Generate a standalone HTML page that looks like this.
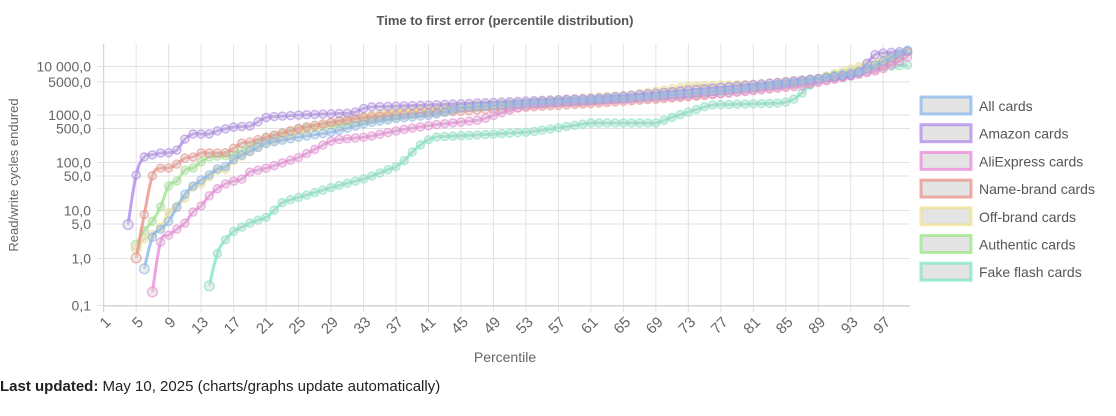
<!DOCTYPE html>
<html><head><meta charset="utf-8"><style>
body{margin:0;background:#fff;width:1116px;height:411px;overflow:hidden;font-family:"Liberation Sans",sans-serif}
</style></head><body>
<svg id="s" width="1116" height="411" xmlns="http://www.w3.org/2000/svg" font-family="Liberation Sans, sans-serif">
<text x="505" y="25" text-anchor="middle" font-size="13" font-weight="bold" fill="#555">Time to first error (percentile distribution)</text>
<text x="505" y="362" text-anchor="middle" font-size="14" fill="#666">Percentile</text>
<text transform="translate(18,175) rotate(-90)" text-anchor="middle" font-size="13" fill="#666">Read/write cycles endured</text>
<text x="0" y="391" font-size="15" fill="#222"><tspan font-weight="bold">Last updated:</tspan> May 10, 2025 (charts/graphs update automatically)</text>
<g id="grid"></g><g id="series"></g><g id="legend"></g>
</svg>
<script>
var NS="http://www.w3.org/2000/svg",s=document.getElementById('s');
function el(t,a,p){var e=document.createElementNS(NS,t);for(var k in a)e.setAttribute(k,a[k]);(p||s).appendChild(e);return e;}
var g=document.getElementById('grid'),X0=103.7,DX=8.12,YT=44,YB=306,XR=910;
function px(p){return X0+(p-1)*DX;}
var yt=[[66.5,"10 000,0"],[82,"5000,0"],[115,"1000,0"],[128.5,"500,0"],[162.5,"100,0"],[176,"50,0"],[210.5,"10,0"],[224,"5,0"],[258.5,"1,0"],[305.5,"0,1"]];
yt.forEach(function(t){el('line',{x1:97,x2:XR,y1:t[0],y2:t[0],stroke:'#e2e2e2','stroke-width':1},g);
var tx=el('text',{x:91,y:t[0]+5,'text-anchor':'end','font-size':14,fill:'#666'},g);tx.textContent=t[1];});
for(var p=1;p<=97;p+=4){var x=px(p);el('line',{x1:x,x2:x,y1:YT,y2:YB+6,stroke:p==1?'#ccc':'#e2e2e2'},g);
var tx=el('text',{x:0,y:0,'text-anchor':'end','font-size':15,fill:'#666',transform:'translate('+(x+8)+','+(YB+17)+') rotate(-45)'},g);tx.textContent=p;}
el('line',{x1:X0,x2:XR,y1:YB,y2:YB,stroke:'#ccc'},g);
function P(x){return (x-X0)/DX+1;}
var S=[
["All cards","130,180,235",[[144,270],[153,235],[161,229],[169,221],[177,207],[185,194],[193,186],[201,180],[209,175],[217,169],[225,167],[234,159],[267,143],[300,137],[333,132],[367,123],[400,118],[433,115],[460,108],[530,103],[630,98],[730,90],[800,82],[860,72],[908,50]]],
["Amazon cards","170,130,235",[[128,225],[137,170],[144,157],[152,155],[160,153],[168,153],[177,150],[185,139],[193,134],[209,134],[217,131],[225,129],[234,127],[250,126],[267,117],[300,115],[353,113],[367,107],[430,105],[600,98],[783,82],[853,75],[862,70],[873,55],[883,53],[908,51]]],
["AliExpress cards","235,130,215",[[153,292],[161,239],[169,235],[177,229],[185,223],[193,212],[201,206],[209,196],[217,189],[225,184],[234,181],[242,179],[250,172],[267,168],[300,157],[333,140],[367,137],[400,130],[433,125],[480,120],[510,110],[530,105],[630,99],[730,93],[800,86],[880,70],[908,57]]],
["Name-brand cards","235,140,130",[[137,258],[144,216],[153,173],[161,168],[169,168],[177,164],[185,158],[193,157],[201,153],[225,153],[234,148],[242,143],[250,142],[267,137],[300,128],[333,122],[367,117],[400,115],[477,110],[600,103],[700,96],[800,84],[850,76],[880,68],[908,52]]],
["Off-brand cards","240,225,140",[[137,249],[144,239],[153,234],[161,227],[169,212],[177,206],[185,198],[193,187],[201,184],[209,177],[217,170],[225,170],[234,160],[267,143],[333,122],[400,110],[477,105],[630,95],[690,86],[760,84],[820,78],[908,52]]],
["Authentic cards","150,230,130",[[137,245],[144,231],[152,222],[161,206],[169,185],[177,181],[185,170],[193,168],[201,162],[209,157],[233,155],[267,138],[300,129],[333,125],[400,116],[460,108],[530,103],[630,98],[730,90],[800,82],[860,72],[908,51]]],
["Fake flash cards","120,230,190",[[209,287],[218,251],[226,239],[234,231],[242,227],[250,223],[267,217],[283,202],[300,197],[333,187],[367,178],[400,165],[417,147],[433,137],[477,135],[530,132],[590,123],[657,123],[670,118],[710,105],[783,103],[797,98],[810,85],[817,80],[822,77],[853,72],[867,68],[908,65]]]
];
var sg=document.getElementById('series');
S.slice().reverse().forEach(function(se){
 var k=se[2],p0=Math.ceil(P(k[0][0])-0.3),p1=Math.min(100,Math.round(P(k[k.length-1][0]))),pts=[];
 for(var p=p0;p<=p1;p++){var x=px(p),y;
  if(x<=k[0][0])y=k[0][1];else if(x>=k[k.length-1][0])y=k[k.length-1][1];
  else for(var i=0;i<k.length-1;i++)if(x>=k[i][0]&&x<=k[i+1][0]){var t=(x-k[i][0])/(k[i+1][0]-k[i][0]);y=k[i][1]+t*(k[i+1][1]-k[i][1]);break;}
  pts.push([x,y]);}
 var d="M"+pts[0][0]+","+pts[0][1];
 for(var i=0;i<pts.length-1;i++){var a=pts[i-1]||pts[i],b=pts[i],c=pts[i+1],e=pts[i+2]||c,tn=0.2;
  d+=" C"+(b[0]+(c[0]-a[0])*tn)+","+(b[1]+(c[1]-a[1])*tn)+" "+(c[0]-(e[0]-b[0])*tn)+","+(c[1]-(e[1]-b[1])*tn)+" "+c[0]+","+c[1];}
 el('path',{d:d,fill:'none',stroke:'rgba('+se[1]+',0.75)','stroke-width':3},sg);
 pts.forEach(function(q,i){el('circle',{cx:q[0],cy:q[1],r:i==0?4.8:4,fill:i==0?'rgba(220,220,220,0.5)':'rgba(200,200,200,0.35)',stroke:'rgba('+se[1]+',0.6)','stroke-width':1.5},sg);});
});
var lg=document.getElementById('legend');
S.forEach(function(se,i){var y=97+i*27.7;
 el('rect',{x:921,y:y,width:50,height:17,fill:'#e4e4e4',stroke:'rgba('+se[1]+',0.7)','stroke-width':3},lg);
 var t=el('text',{x:979,y:y+14,'font-size':14,fill:'#555'},lg);t.textContent=se[0];});
</script>
</body></html>
